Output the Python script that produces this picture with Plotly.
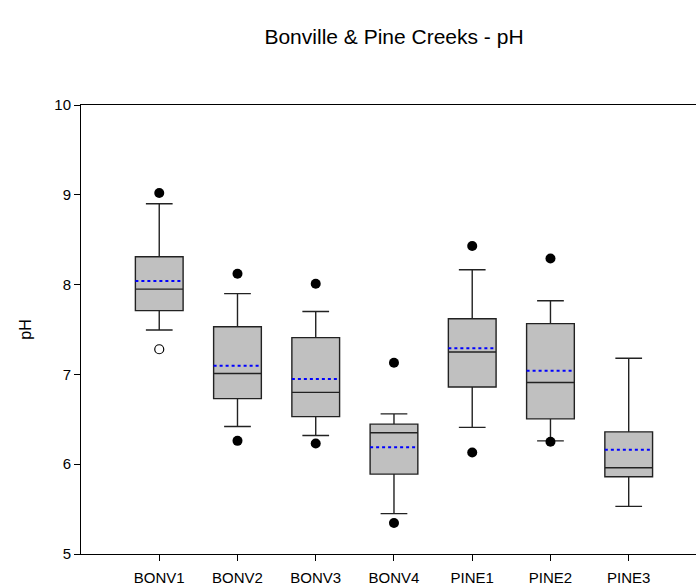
import plotly.graph_objects as go

# ---- data ----
categories = ["BONV1", "BONV2", "BONV3", "BONV4", "PINE1", "PINE2", "PINE3"]
q1 = [7.71, 6.73, 6.53, 5.89, 6.86, 6.505, 5.86]
median = [7.95, 7.01, 6.80, 6.35, 7.25, 6.91, 5.96]
q3 = [8.31, 7.53, 7.41, 6.446, 7.62, 7.565, 6.36]
lower_whisker = [7.495, 6.42, 6.32, 5.45, 6.41, 6.26, 5.53]
upper_whisker = [8.90, 7.90, 7.70, 6.56, 8.166, 7.82, 7.18]
means = [8.04, 7.095, 6.95, 6.19, 7.29, 7.04, 6.16]
upper_points = [9.02, 8.12, 8.01, 7.13, 8.43, 8.29, None]
lower_points = [None, 6.26, 6.23, 5.345, 6.13, 6.25, None]
open_points = [7.28, None, None, None, None, None, None]
y_ticks = [5, 6, 7, 8, 9, 10]

positions = list(range(1, len(categories) + 1))
box_width = 0.61
half = box_width / 2

fig = go.Figure()

fig.add_trace(go.Box(
    x=positions, q1=q1, median=median, q3=q3,
    lowerfence=lower_whisker, upperfence=upper_whisker,
    width=box_width, whiskerwidth=0.56,
    fillcolor="#c0c0c0", line=dict(color="#222222", width=1.4),
    boxpoints=False, showlegend=False, hoverinfo="skip",
))

# mean lines (blue dotted)
mx, my = [], []
for p, m in zip(positions, means):
    mx += [p - half, p + half, None]
    my += [m, m, None]
fig.add_trace(go.Scatter(x=mx, y=my, mode="lines",
                         line=dict(color="#0000ff", width=2, dash="dot"),
                         showlegend=False, hoverinfo="skip"))

# outlying points
dx, dy = [], []
for p, u, l in zip(positions, upper_points, lower_points):
    if u is not None:
        dx.append(p); dy.append(u)
    if l is not None:
        dx.append(p); dy.append(l)
fig.add_trace(go.Scatter(x=dx, y=dy, mode="markers",
                         marker=dict(color="black", size=10),
                         showlegend=False, hoverinfo="skip"))

ox = [p for p, o in zip(positions, open_points) if o is not None]
oy = [o for o in open_points if o is not None]
fig.add_trace(go.Scatter(x=ox, y=oy, mode="markers",
                         marker=dict(color="white", size=9,
                                     line=dict(color="black", width=1.2)),
                         showlegend=False, hoverinfo="skip"))

font_family = "Liberation Sans, Arial, sans-serif"
fig.update_layout(
    width=696, height=587,
    margin=dict(l=81, r=0, t=105, b=33),
    paper_bgcolor="white", plot_bgcolor="white",
    font=dict(family=font_family, size=15, color="black"),
    title=dict(text="Bonville & Pine Creeks - pH", x=394 / 696, xref="container",
               xanchor="center", y=1 - 37 / 587, yref="container",
               yanchor="middle", font=dict(size=21, color="black")),
    xaxis=dict(range=[0, 7.86], tickvals=positions, ticktext=categories,
               showline=True, linecolor="black", linewidth=1, mirror=True,
               ticks="outside", ticklen=6, tickcolor="black",
               ticklabelstandoff=4,
               showgrid=False, zeroline=False, tickfont=dict(size=15)),
    yaxis=dict(range=[5, 10], tickvals=y_ticks,
               showline=True, linecolor="black", linewidth=1,
               ticks="outside", ticklen=6, tickcolor="black",
               showgrid=False, zeroline=False, tickfont=dict(size=15),
               title=dict(text="pH", standoff=18, font=dict(size=16))),
)

fig.write_html("out.html")
